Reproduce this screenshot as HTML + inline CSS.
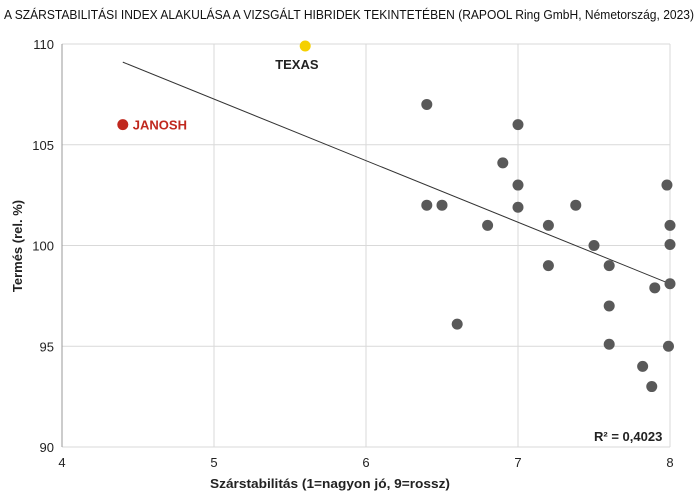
<!DOCTYPE html>
<html><head><meta charset="utf-8"><style>
body{margin:0;background:#fff;}
svg{display:block;font-family:"Liberation Sans",sans-serif;}
</style></head><body>
<svg id="chart" width="700" height="496" viewBox="0 0 700 496">
<text x="4" y="19" font-size="13" fill="#111" textLength="690" lengthAdjust="spacingAndGlyphs">A SZÁRSTABILITÁSI INDEX ALAKULÁSA A VIZSGÁLT HIBRIDEK TEKINTETÉBEN (RAPOOL Ring GmbH, Németország, 2023)</text>
<g id="grid"></g><g id="axes"></g><g id="marks"></g>
<text x="330" y="488" font-size="13" font-weight="bold" fill="#222" text-anchor="middle" textLength="240" lengthAdjust="spacingAndGlyphs">Szárstabilitás (1=nagyon jó,  9=rossz)</text>
<text transform="translate(22,246) rotate(-90)" font-size="13" font-weight="bold" fill="#222" text-anchor="middle">Termés (rel. %)</text>
<text x="594" y="441" font-size="13" font-weight="bold" fill="#222">R² = 0,4023</text>
</svg>
<script>
const xTicks=[4,5,6,7,8];
const yTicks=[90,95,100,105,110];
const grayX=[6.4,6.4,6.5,6.6,6.8,6.9,7.0,7.0,7.0,7.2,7.2,7.38,7.5,7.6,7.6,7.6,7.82,7.88,7.9,7.98,8.0,8.0,8.0,7.99];
const grayY=[107,102,102,96.1,101,104.1,106,103,101.9,101,99,102,100,99,97,95.1,94,93,97.9,103,101,100.05,98.1,95];
const highlightNames=["TEXAS","JANOSH"];
const highlightX=[5.6,4.4];
const highlightY=[109.9,106];
const trendX=[4.4,8.0];
const trendY=[109.1,98.1];
const NS="http://www.w3.org/2000/svg";
const xs=v=>62+(v-4)*152;
const ys=v=>447-(v-90)*20.15;
function mk(t,a,p){const e=document.createElementNS(NS,t);for(const k in a)e.setAttribute(k,a[k]);p.appendChild(e);return e;}
const grid=document.getElementById('grid'),axes=document.getElementById('axes'),marks=document.getElementById('marks');
xTicks.forEach(t=>{
 const l=mk('line',{x1:xs(t),x2:xs(t),y1:ys(110),y2:ys(90),stroke:'#d9d9d9','stroke-width':1},grid);
 
 
 const tx=mk('text',{x:xs(t),y:467,'font-size':13,fill:'#222','text-anchor':'middle'},axes);
 tx.textContent=t;
 
 
});
yTicks.forEach(t=>{
 const l=mk('line',{x1:xs(4),x2:xs(8),y1:ys(t),y2:ys(t),stroke:'#d9d9d9','stroke-width':1},grid);
 
 
 const tx=mk('text',{x:54,y:ys(t)+5,'font-size':13,fill:'#222','text-anchor':'end'},axes);
 tx.textContent=t;
 
 
});
const ax=mk('line',{x1:xs(4),x2:xs(4),y1:ys(110),y2:ys(90),stroke:'#999'},axes);


const tl=mk('line',{x1:xs(trendX[0]),y1:ys(trendY[0]),x2:xs(trendX[1]),y2:ys(trendY[1]),stroke:'#333','stroke-width':1},marks);


grayX.forEach((x,i)=>{
 const c=mk('circle',{cx:xs(x),cy:ys(grayY[i]),r:5.5,fill:'#595959'},marks);
 
 
});
const hColors=['#f5d000','#c0281e'];
highlightX.forEach((x,i)=>{
 const c=mk('circle',{cx:xs(x),cy:ys(highlightY[i]),r:5.5,fill:hColors[i]},marks);
 
 
 const t=i===0?mk('text',{x:xs(x)-30,y:ys(highlightY[i])+23,'font-size':13,'font-weight':'bold',fill:'#222'},marks)
  :mk('text',{x:xs(x)+10,y:ys(highlightY[i])+5,'font-size':13,'font-weight':'bold',fill:'#c0281e'},marks);
 t.textContent=highlightNames[i];
 
 
});
</script>
</body></html>
